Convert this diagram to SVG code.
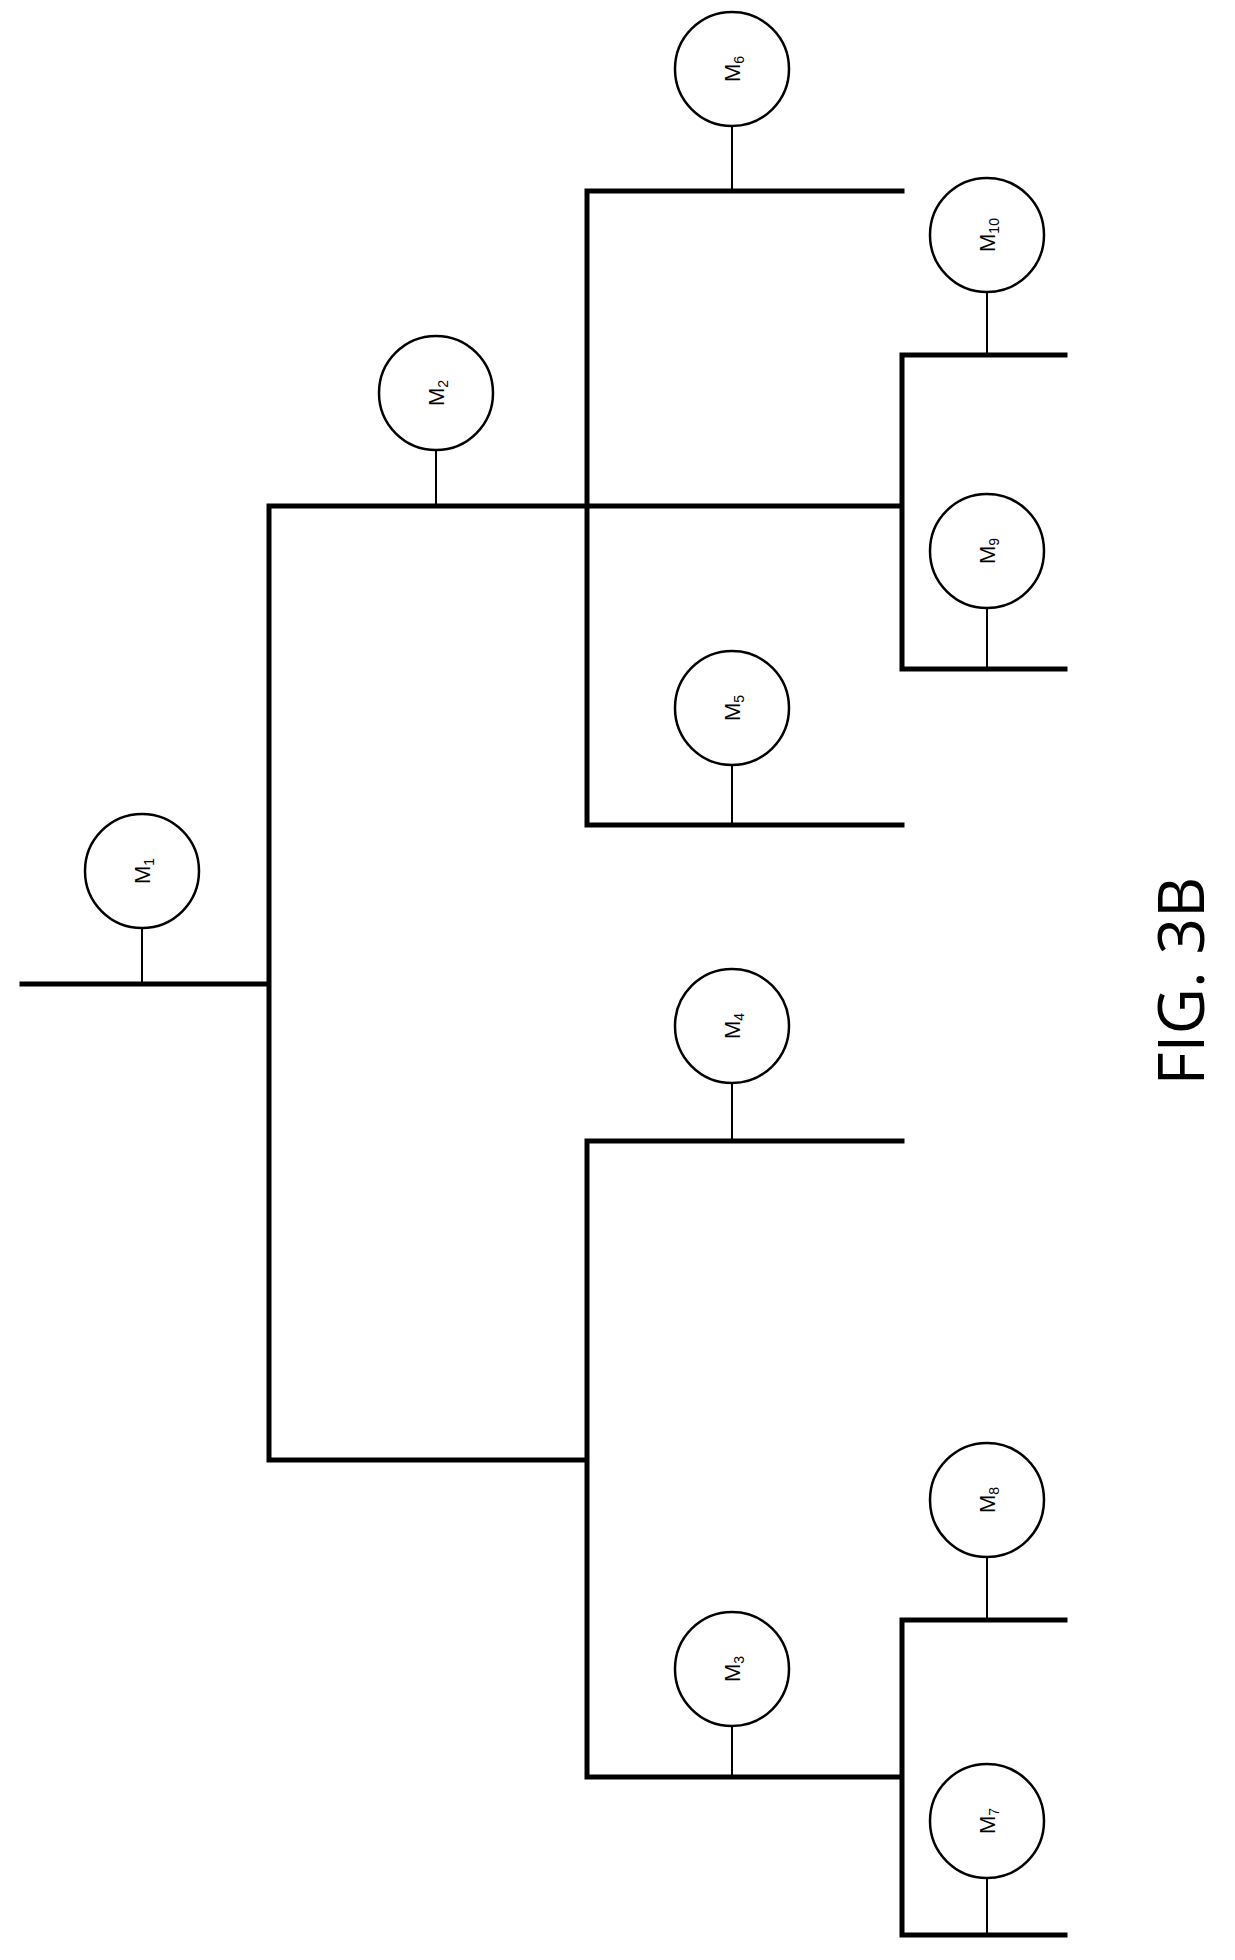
<svg xmlns="http://www.w3.org/2000/svg" width="1235" height="1960" viewBox="0 0 1235 1960">
<style>
.b{stroke:#000;stroke-width:5;fill:none;stroke-linecap:square}
.s{stroke:#000;stroke-width:2;fill:none}
circle{fill:#fff;stroke:#000;stroke-width:2.5}
text{font-family:"Liberation Sans",Arial,sans-serif;font-size:22px;fill:#000}
.sub{font-size:14px}
</style>
<rect width="1235" height="1960" fill="#fff"/>
<g id="connectors">
<path class="b" d="M22 984H269M269 506V1460M269 506H902M269 1460H587M587 191V825M587 1141V1777M587 191H902M587 825H902M587 1141H902M587 1777H902M902 355V669M902 1620V1935M902 355H1065M902 669H1065M902 1620H1065M902 1935H1065"/>
<path class="s" d="M142 928V984M436 450V506M732 126V191M987 292V355M987 608V669M732 765V825M732 1083V1141M987 1557V1620M732 1726V1777M987 1878V1935"/>
</g>
<g id="M1"><circle cx="142" cy="871" r="57"/><text transform="translate(150,871) rotate(-90)" text-anchor="middle">M<tspan class="sub" dy="4">1</tspan></text></g>
<g id="M2"><circle cx="436" cy="393" r="57"/><text transform="translate(444,393) rotate(-90)" text-anchor="middle">M<tspan class="sub" dy="4">2</tspan></text></g>
<g id="M6"><circle cx="732" cy="69" r="57"/><text transform="translate(740,69) rotate(-90)" text-anchor="middle">M<tspan class="sub" dy="4">6</tspan></text></g>
<g id="M10"><circle cx="987" cy="235" r="57"/><text transform="translate(995,235) rotate(-90)" text-anchor="middle">M<tspan class="sub" dy="4">10</tspan></text></g>
<g id="M9"><circle cx="987" cy="551" r="57"/><text transform="translate(995,551) rotate(-90)" text-anchor="middle">M<tspan class="sub" dy="4">9</tspan></text></g>
<g id="M5"><circle cx="732" cy="708" r="57"/><text transform="translate(740,708) rotate(-90)" text-anchor="middle">M<tspan class="sub" dy="4">5</tspan></text></g>
<g id="M4"><circle cx="732" cy="1026" r="57"/><text transform="translate(740,1026) rotate(-90)" text-anchor="middle">M<tspan class="sub" dy="4">4</tspan></text></g>
<g id="M8"><circle cx="987" cy="1500" r="57"/><text transform="translate(995,1500) rotate(-90)" text-anchor="middle">M<tspan class="sub" dy="4">8</tspan></text></g>
<g id="M3"><circle cx="732" cy="1669" r="57"/><text transform="translate(740,1669) rotate(-90)" text-anchor="middle">M<tspan class="sub" dy="4">3</tspan></text></g>
<g id="M7"><circle cx="987" cy="1821" r="57"/><text transform="translate(995,1821) rotate(-90)" text-anchor="middle">M<tspan class="sub" dy="4">7</tspan></text></g>
<text transform="translate(1204,981) rotate(-90)" text-anchor="middle" style="font-size:64px;font-family:'Open Sans','Liberation Sans',sans-serif">FIG. 3B</text>
</svg>
